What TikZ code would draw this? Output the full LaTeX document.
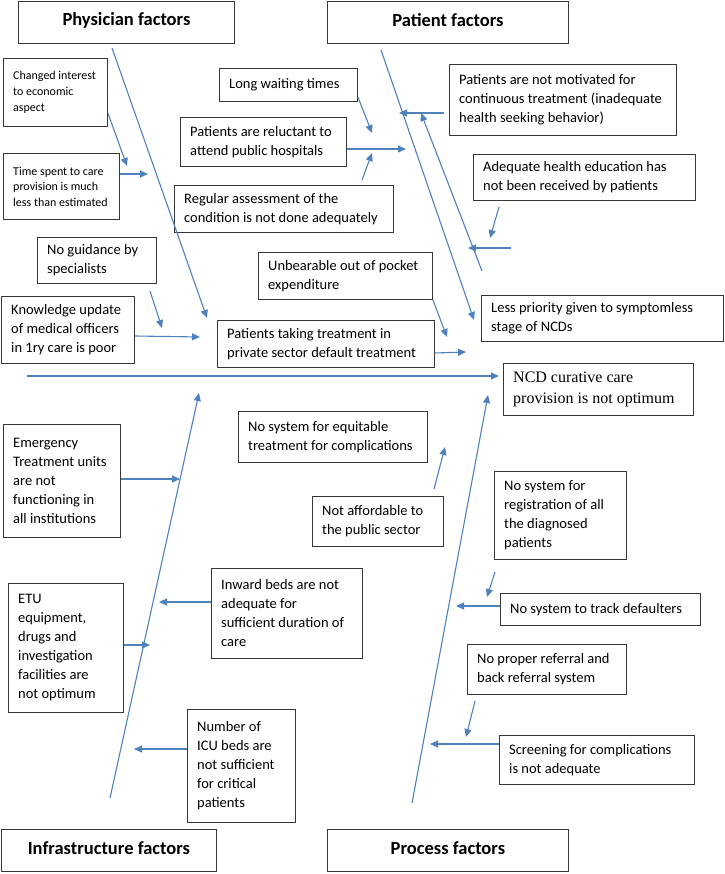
\documentclass[tikz,border=0pt]{standalone}
\usepackage{fontspec}
\setmainfont{Carlito}
\newfontfamily\serifnc{Liberation Serif}
\usetikzlibrary{arrows.meta,calc}
\definecolor{bonec}{RGB}{79,129,189}
\definecolor{boxc}{RGB}{55,55,55}
\newcommand{\fsN}{\fontsize{14.5}{19}\selectfont}
\newcommand{\fsS}{\fontsize{12}{16}\selectfont}
\newcommand{\fsT}{\fontsize{12}{15.5}\selectfont}
\newcommand{\fsH}{\fontsize{18.5}{22}\selectfont\bfseries}
\tikzset{
  boxsty/.style={draw=boxc, line width=0.9pt, fill=white, inner sep=0pt},
  txtsty/.style={inner sep=0pt, align=left, font=\fsN},
  titlesty/.style={boxsty, font=\fsH, anchor=north west},
  bone/.style={draw=bonec, line width=1.1pt, -{Triangle[length=8pt,width=7pt]}}
}
\newcommand{\fbx}[7][]{%
  \node[boxsty, minimum width=#5, minimum height=#6, anchor=north west] (#2) at (#3,#4) {};
  \node[txtsty, anchor=west, #1] (#2t) at ([xshift=10pt]#2.west) {#7};}
\newcommand{\tbx}[6]{%
  \node[boxsty, minimum width=#4, minimum height=#5, anchor=north west] (#1) at (#2,#3) {};
  \node[inner sep=0pt, font=\fsH] (#1t) at ([yshift=2pt]#1.center) {#6};}
\begin{document}
\begin{tikzpicture}[x=1pt,y=-1pt]
\useasboundingbox (0,0) rectangle (724,874);
% titles
\tbx{phys}{18}{1}{216}{42}{Physician factors}
\tbx{pat}{327}{1}{241}{42}{Patient factors}
\tbx{infra}{1}{829}{215}{42}{Infrastructure factors}
\tbx{proc}{327}{829}{241}{42}{Process factors}
% boxes
\fbx[font=\fsS]{chg}{3}{58}{104}{68}{Changed interest\\to economic\\aspect}
\fbx[font=\fsT]{time}{3}{153}{116}{66}{Time spent to care\\provision is much\\less than estimated}
\fbx{long}{219}{68}{138}{33}{Long waiting times}
\fbx{rel}{180}{117}{166}{49}{Patients are reluctant to\\attend public hospitals}
\fbx{reg}{174}{185}{219}{47}{Regular assessment of the\\condition is not done adequately}
\fbx{mot}{449}{64}{227}{71}{Patients are not motivated for\\continuous treatment (inadequate\\health seeking behavior)}
\fbx{edu}{473}{154}{222}{46}{Adequate health education has\\not been received by patients}
\fbx{guid}{37}{237}{119}{46}{No guidance by\\specialists}
\fbx{know}{1}{296}{133}{67}{Knowledge update\\of medical officers\\in 1ry care is poor}
\fbx{unb}{258}{252}{174}{47}{Unbearable out of pocket\\expenditure}
\fbx{priv}{217}{320}{217}{47}{Patients taking treatment in\\private sector default treatment}
\fbx{less}{481}{295}{242}{46}{Less priority given to symptomless\\stage of NCDs}
\fbx[font={\serifnc\fontsize{16}{20.5}\selectfont}]{ncd}{503}{363}{190}{52}{NCD curative care\\provision is not optimum}
\fbx{emer}{3}{424}{117}{113}{Emergency\\Treatment units\\are not\\functioning in\\all institutions}
\fbx{etu}{8}{583}{115}{129}{ETU\\equipment,\\drugs and\\investigation\\facilities are\\not optimum}
\fbx{inw}{211}{568}{151}{90}{Inward beds are not\\adequate for\\sufficient duration of\\care}
\fbx{icu}{187}{709}{108}{113}{Number of\\ICU beds are\\not sufficient\\for critical\\patients}
\fbx{equ}{238}{411}{189}{51}{No system for equitable\\treatment for complications}
\fbx{aff}{312}{496}{131}{50}{Not affordable to\\the public sector}
\fbx{regi}{494}{471}{132}{88}{No system for\\registration of all\\the diagnosed\\patients}
\fbx{trk}{500}{593}{200}{32}{No system to track defaulters}
\fbx{ref}{467}{644}{159}{50}{No proper referral and\\back referral system}
\fbx{scr}{499}{735}{195}{49}{Screening for complications\\is not adequate}
% bone coordinates
\coordinate (sp1) at (27,376);  \coordinate (sp2) at (499,376);
\coordinate (pb1) at (112,48);  \coordinate (pb2) at (207,318);
\coordinate (qa1) at (381,50);  \coordinate (qa2) at (474,320);
\coordinate (qb1) at (482,271); \coordinate (qb2) at (421,113);
\coordinate (ib1) at (110,798); \coordinate (ib2) at (199,393);
\coordinate (rb1) at (412,803); \coordinate (rb2) at (488,395);
% arrow tips and free starts
\coordinate (tchg) at (127,166);
\coordinate (ttime) at (148,174);
\coordinate (sguid) at (150,291); \coordinate (tguid) at (162,328);
\coordinate (tknow) at (200,337);
\coordinate (sreg) at (362,180); \coordinate (treg) at (372,153);
\coordinate (tlong) at (372,133);
\coordinate (trel) at (406,149);
\coordinate (smot) at (444,113); \coordinate (tmot) at (399,113);
\coordinate (sedu) at (499,207); \coordinate (tedu) at (490,238);
\coordinate (sh) at (511,248); \coordinate (th) at (468,248);
\coordinate (tunb) at (447,337);
\coordinate (tpriv) at (466,352);
\coordinate (temer) at (180,479);
\coordinate (tetu) at (150,645);
\coordinate (tinw) at (159,602);
\coordinate (ticu) at (134,749);
\coordinate (saff) at (434,489); \coordinate (taff) at (445,447);
\coordinate (sregi) at (495,572); \coordinate (tregi) at (487,597);
\coordinate (ttrk) at (456,606);
\coordinate (sref) at (475,701); \coordinate (tref) at (466,737);
\coordinate (tscr) at (430,744);
% bones
\draw[bone] (sp1) -- (sp2);
\draw[bone] (pb1) -- (pb2);
\draw[bone] (qa1) -- (qa2);
\draw[bone] (qb1) -- (qb2);
\draw[bone] (ib1) -- (ib2);
\draw[bone] (rb1) -- (rb2);
% branches
\draw[bone] (chg.east |- 0,113) -- (tchg);
\draw[bone] (time.east |- ttime) -- (ttime);
\draw[bone] (sguid) -- (tguid);
\draw[bone] (know.east |- 0,336) -- (tknow);
\draw[bone] (sreg) -- (treg);
\draw[bone] (long.east |- 0,97) -- (tlong);
\draw[bone] (rel.east |- trel) -- (trel);
\draw[bone] (smot) -- (tmot);
\draw[bone] (sedu) -- (tedu);
\draw[bone] (sh) -- (th);
\draw[bone] (unb.south east) -- (tunb);
\draw[bone] (priv.east |- 0,353) -- (tpriv);
\draw[bone] (emer.east |- temer) -- (temer);
\draw[bone] (etu.east |- tetu) -- (tetu);
\draw[bone] (inw.west |- tinw) -- (tinw);
\draw[bone] (icu.west |- ticu) -- (ticu);
\draw[bone] (saff) -- (taff);
\draw[bone] (sregi) -- (tregi);
\draw[bone] (trk.west |- ttrk) -- (ttrk);
\draw[bone] (sref) -- (tref);
\draw[bone] (scr.west |- tscr) -- (tscr);
\end{tikzpicture}
\end{document}
